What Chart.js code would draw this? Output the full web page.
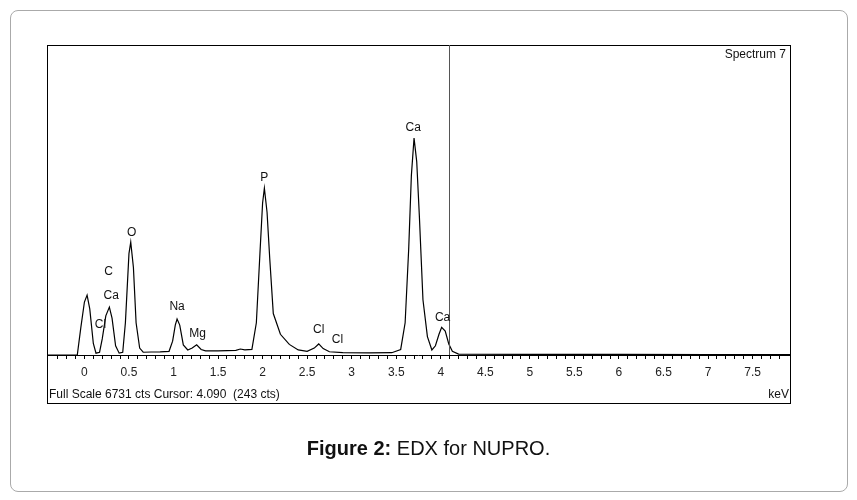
<!DOCTYPE html>
<html>
<head>
<meta charset="utf-8">
<script src="https://cdn.jsdelivr.net/npm/chart.js@4.4.0/dist/chart.umd.min.js"></script>
<style>
  body { margin: 0; background: #fff; font-family: "Liberation Sans", Arial, sans-serif; }
  #frame { position: absolute; left: 10px; top: 10px; width: 836px; height: 480px; border: 1px solid #aaa; border-radius: 8px; }
  #caption { position: absolute; left: 0; width: 857px; top: 437px; text-align: center; font-size: 20px; color: #111; }
  canvas { position: absolute; left: 0; top: 0; }
</style>
</head>
<body>
<div id="frame"></div>
<canvas id="chart" width="857" height="500"></canvas>
<div id="caption"><b>Figure 2:</b> EDX for NUPRO.</div>
<script>
// spectrum (keV vs counts)
const energy = [-0.42, -0.08, -0.04, 0.0, 0.03, 0.06, 0.1, 0.13, 0.17, 0.2, 0.24, 0.28, 0.31, 0.35, 0.39, 0.43,
  0.46, 0.5, 0.52, 0.55, 0.58, 0.62, 0.66, 0.75, 0.85, 0.95, 0.99, 1.02, 1.04, 1.07, 1.11, 1.16, 1.21, 1.26, 1.31,
  1.36, 1.5, 1.7, 1.75, 1.8, 1.88, 1.93, 1.97, 2.0, 2.02, 2.05, 2.08, 2.12, 2.2, 2.3, 2.4, 2.5, 2.58, 2.63, 2.68,
  2.75, 2.9, 3.2, 3.45, 3.55, 3.6, 3.64, 3.67, 3.7, 3.73, 3.76, 3.8, 3.85, 3.9, 3.94, 3.98, 4.01, 4.05, 4.09,
  4.13, 4.2, 5.0, 6.0, 7.0, 7.92];
const counts = [0, 0, 600, 1150, 1300, 1000, 250, 40, 60, 350, 850, 1040, 800, 200, 40, 60,
  700, 2200, 2450, 1900, 700, 150, 60, 65, 70, 80, 300, 650, 780, 650, 220, 110, 150, 220, 120,
  90, 90, 100, 130, 110, 120, 700, 2200, 3300, 3620, 3100, 2100, 900, 450, 230, 110, 80, 150, 240, 140,
  70, 50, 45, 50, 120, 700, 2300, 3900, 4710, 4200, 3000, 1200, 400, 110, 200, 450, 600, 520, 240,
  80, 20, 15, 15, 10, 10];
const peakNames = ["C", "Ca", "Cl", "O", "Na", "Mg", "P", "Cl", "Cl", "Ca", "Ca"];
const peakX = [0.27, 0.30, 0.18, 0.53, 1.04, 1.27, 2.02, 2.63, 2.84, 3.69, 4.02];
const peakY = [1800, 1280, 650, 2650, 1040, 455, 3860, 540, 325, 4925, 800];
const cursorKeV = 4.09;
const fullScale = 6731;

const points = energy.map((e, i) => ({ x: e, y: counts[i] }));
const font = '"Liberation Sans", Arial, sans-serif';

const decor = {
  id: 'decor',
  afterDraw(chart) {
    const { ctx, chartArea: a, scales: { x, y } } = chart;
    ctx.save();
    ctx.strokeStyle = '#000';
    ctx.lineWidth = 1;
    ctx.strokeRect(a.left + 0.5, a.top + 0.5, a.right - a.left, 403 - a.top);
    // axis line
    ctx.beginPath();
    ctx.moveTo(a.left, a.bottom + 0.5);
    ctx.lineTo(a.right, a.bottom + 0.5);
    ctx.stroke();
    // cursor
    const cx = Math.round(x.getPixelForValue(cursorKeV)) + 0.5;
    ctx.strokeStyle = '#555';
    ctx.beginPath();
    ctx.moveTo(cx, a.top);
    ctx.lineTo(cx, a.bottom);
    ctx.stroke();
    // element labels
    ctx.fillStyle = '#111';
    ctx.font = '12px ' + font;
    ctx.textAlign = 'center';
    ctx.textBaseline = 'middle';
    peakNames.forEach((n, i) => ctx.fillText(n, x.getPixelForValue(peakX[i]), y.getPixelForValue(peakY[i])));
    ctx.textAlign = 'right';
    ctx.fillText('Spectrum 7', a.right - 4, a.top + 10);
    ctx.fillText('keV', a.right - 1, 395);
    ctx.textAlign = 'left';
    ctx.fillText('Full Scale ' + fullScale + ' cts Cursor: 4.090  (243 cts)', a.left + 2, 395);
    ctx.restore();
  }
};

new Chart(document.getElementById('chart'), {
  type: 'line',
  data: { datasets: [{ data: points, borderColor: '#000', borderWidth: 1.2, pointRadius: 0, tension: 0, fill: false }] },
  options: {
    responsive: false,
    animation: false,
    layout: { padding: { left: 47, right: 67, top: 45, bottom: 97 } },
    plugins: { legend: { display: false }, tooltip: { enabled: false } },
    scales: {
      x: {
        type: 'linear', min: -0.42, max: 7.92,
        afterFit(s) { s.height = 48; },
        border: { display: false },
        grid: { drawOnChartArea: false, tickLength: 4, color: '#000' },
        ticks: {
          stepSize: 0.1, autoSkip: false, maxRotation: 0, padding: 6,
          color: '#222', font: { family: font, size: 12 },
          callback: v => {
            const r = Math.round(v * 10);
            return r % 5 === 0 && r >= 0 ? String(r / 10) : '';
          }
        }
      },
      y: { display: false, min: 0, max: fullScale }
    }
  },
  plugins: [decor]
});
</script>
</body>
</html>
